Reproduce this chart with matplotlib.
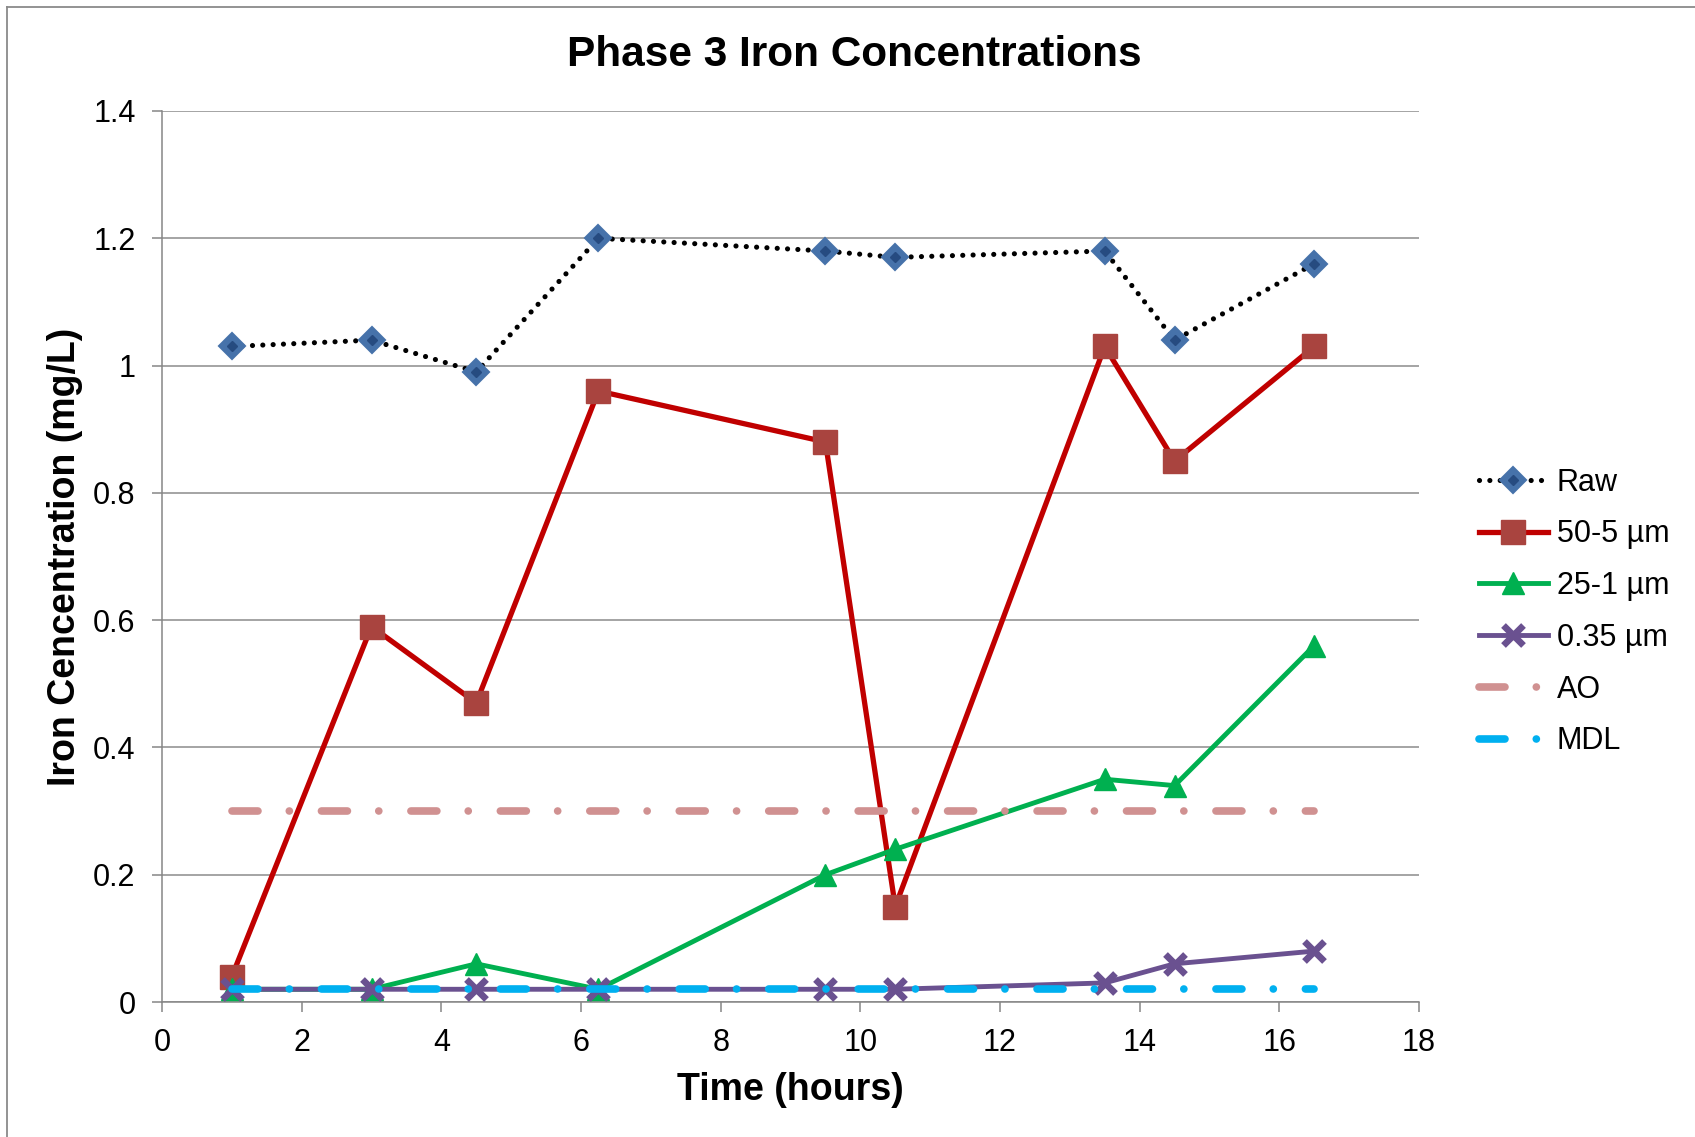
import matplotlib
matplotlib.use("Agg")
import matplotlib.pyplot as plt
from matplotlib.lines import Line2D
from matplotlib.legend_handler import HandlerTuple

plt.rcParams["font.family"] = ["Liberation Sans", "DejaVu Sans"]

# data
hours = [1, 3, 4.5, 6.25, 9.5, 10.5, 13.5, 14.5, 16.5]
raw = [1.03, 1.04, 0.99, 1.20, 1.18, 1.17, 1.18, 1.04, 1.16]
um_50_5 = [0.04, 0.59, 0.47, 0.96, 0.88, 0.15, 1.03, 0.85, 1.03]
um_25_1 = [0.02, 0.02, 0.06, 0.02, 0.20, 0.24, 0.35, 0.34, 0.56]
um_035 = [0.02, 0.02, 0.02, 0.02, 0.02, 0.02, 0.03, 0.06, 0.08]
ao_level = 0.3
mdl_level = 0.02
x_ticks = [0, 2, 4, 6, 8, 10, 12, 14, 16, 18]
y_ticks = [0, 0.2, 0.4, 0.6, 0.8, 1.0, 1.2, 1.4]
y_tick_labels = ["0", "0.2", "0.4", "0.6", "0.8", "1", "1.2", "1.4"]

W, H = 1695, 1137
fig = plt.figure(figsize=(W / 100, H / 100), dpi=100)
ax = fig.add_axes([162 / W, 1 - 1002 / H, (1419 - 162) / W, (1002 - 111) / H])

# outer chart border (only left and top visible)
fig.add_artist(Line2D([7 / W, 7 / W], [0, 1 - 7 / H], transform=fig.transFigure,
                      color="#8a8a8a", lw=1.3))
fig.add_artist(Line2D([7 / W, 1], [1 - 7 / H, 1 - 7 / H], transform=fig.transFigure,
                      color="#8a8a8a", lw=1.3))

raw_line, = ax.plot(hours, raw, color="black", lw=3.7, linestyle=(0, (0.01, 2.0)),
                    dash_capstyle="round", marker="D", ms=13,
                    mfc="#4672AA", mec="#4672AA", mew=1.5, label="Raw", zorder=3)
raw_inner, = ax.plot(hours, raw, linestyle="none", marker="D", ms=5,
                     mfc="#264B80", mec="#264B80", zorder=3.1)

red_line, = ax.plot(hours, um_50_5, color="#C00000", lw=3.8, marker="s", ms=17.5,
                    mfc="#A9443F", mec="#A9443F", label="50-5 µm", zorder=3)
green_line, = ax.plot(hours, um_25_1, color="#00B050", lw=3.5, marker="^", ms=16,
                      mfc="#00B050", mec="#00B050", label="25-1 µm", zorder=3)
purple_line, = ax.plot(hours, um_035, color="#6A5190", lw=3.5, marker="x", ms=14,
                       mew=4.8, mec="#6A5190", label="0.35 µm", zorder=3)

ao_line, = ax.plot([hours[0], hours[-1]], [ao_level, ao_level], color="#D09191", lw=5.5,
                   linestyle=(0, (3.4, 4.1, 0.01, 4.2)), dash_capstyle="round",
                   label="AO", zorder=3)
mdl_line, = ax.plot([hours[0], hours[-1]], [mdl_level, mdl_level], color="#00B0F0", lw=5.5,
                    linestyle=(0, (3.4, 4.1, 0.01, 4.2)), dash_capstyle="round",
                    label="MDL", zorder=3)

ax.set_xlim(0, 18)
ax.set_ylim(0, 1.4)
ax.set_xticks(x_ticks)
ax.set_xticklabels([str(t) for t in x_ticks])
ax.set_yticks(y_ticks)
ax.set_yticklabels(y_tick_labels)
ax.tick_params(axis="both", labelsize=22, direction="out", length=7, width=1.1,
               color="#868686", pad=12)
ax.grid(axis="y", color="#8C8C8C", lw=1.1)
ax.set_axisbelow(True)
for side in ["top", "right"]:
    ax.spines[side].set_visible(False)
for side in ["left", "bottom"]:
    ax.spines[side].set_color("#868686")
    ax.spines[side].set_linewidth(1.1)

ax.set_xlabel("Time (hours)", fontsize=27, fontweight="bold", va="center")
ax.xaxis.set_label_coords(0.5, (1002 - 1090) / 891)
ax.set_ylabel("Iron Cencentration (mg/L)", fontsize=27, fontweight="bold", va="center")
ax.yaxis.set_label_coords((65 - 162) / 1257, 0.5)

fig.text(854 / W, 1 - 55 / H, "Phase 3 Iron Concentrations", fontsize=30.5,
         fontweight="bold", ha="center", va="center")

handles = [(raw_line, raw_inner), red_line, green_line, purple_line, ao_line, mdl_line]
labels = ["Raw", "50-5 µm", "25-1 µm", "0.35 µm", "AO", "MDL"]
fig.legend(handles, labels, loc="center left", bbox_to_anchor=(1479 / W, 1 - 612 / H),
           bbox_transform=fig.transFigure, frameon=False, fontsize=22,
           handlelength=2.25, handletextpad=0.3, labelspacing=0.71,
           borderpad=0, borderaxespad=0,
           handler_map={tuple: HandlerTuple(ndivide=1, pad=0)})

fig.savefig("out.png", dpi=100)
